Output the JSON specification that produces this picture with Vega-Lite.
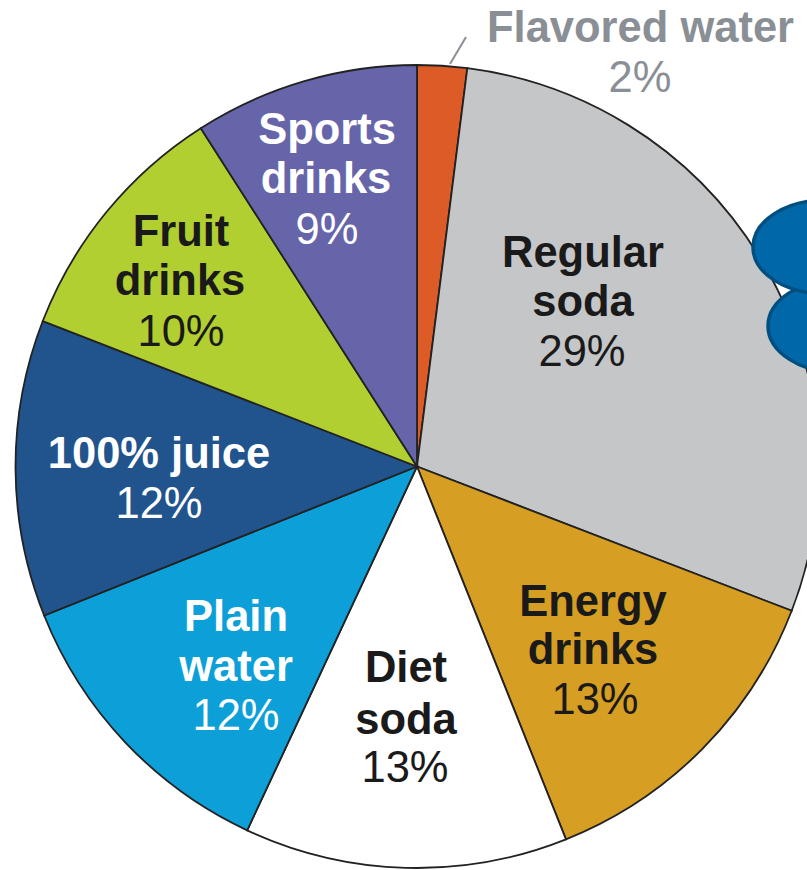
{
"$schema":"https://vega.github.io/schema/vega-lite/v6.json",
"width":807,"height":870,"padding":0,"autosize":{"type":"none"},
"background":"white",
"view":{"stroke":null},
"config":{"style":{"cell":{"stroke":null}}},
"datasets":{
"shares":[
{"drink":"Flavored water","share":2,"rank":1},
{"drink":"Regular soda","share":28.85,"rank":2},
{"drink":"Energy drinks","share":13.1,"rank":3},
{"drink":"Diet soda","share":13,"rank":4},
{"drink":"Plain water","share":12,"rank":5},
{"drink":"100% juice","share":11.95,"rank":6},
{"drink":"Fruit drinks","share":10.05,"rank":7},
{"drink":"Sports drinks","share":9.05,"rank":8}
],
"names":[
{"drink":"Flavored water","line":"Flavored water","lx":640.5,"ly":29},
{"drink":"Regular soda","line":"Regular","lx":583,"ly":254},
{"drink":"Regular soda","line":"soda","lx":583,"ly":303},
{"drink":"Energy drinks","line":"Energy","lx":593,"ly":603},
{"drink":"Energy drinks","line":"drinks","lx":593,"ly":651},
{"drink":"Diet soda","line":"Diet","lx":406,"ly":669},
{"drink":"Diet soda","line":"soda","lx":406,"ly":721},
{"drink":"Plain water","line":"Plain","lx":236,"ly":618},
{"drink":"Plain water","line":"water","lx":236,"ly":668},
{"drink":"100% juice","line":"100% juice","lx":159,"ly":455},
{"drink":"Fruit drinks","line":"Fruit","lx":181,"ly":233},
{"drink":"Fruit drinks","line":"drinks","lx":180,"ly":282},
{"drink":"Sports drinks","line":"Sports","lx":327,"ly":131},
{"drink":"Sports drinks","line":"drinks","lx":326,"ly":180}
],
"pcts":[
{"drink":"Flavored water","line":"2%","lx":640,"ly":79},
{"drink":"Regular soda","line":"29%","lx":582,"ly":353},
{"drink":"Energy drinks","line":"13%","lx":595,"ly":701},
{"drink":"Diet soda","line":"13%","lx":405,"ly":769},
{"drink":"Plain water","line":"12%","lx":236,"ly":717},
{"drink":"100% juice","line":"12%","lx":159,"ly":505},
{"drink":"Fruit drinks","line":"10%","lx":181,"ly":333},
{"drink":"Sports drinks","line":"9%","lx":327,"ly":231}
],
"leader":[{"lx":450,"ly":64},{"lx":466,"ly":37}],
"clouds":[
{"cloud":"lower","lx":840,"ly":326},
{"cloud":"upper","lx":825,"ly":247}
]
},
"layer":[
{"data":{"name":"shares"},
"mark":{"type":"arc","outerRadius":401.5,"stroke":"#222222","strokeWidth":1.8},
"encoding":{
"x":{"datum":417,"type":"quantitative","scale":{"domain":[0,807]},"axis":null},
"y":{"datum":466.5,"type":"quantitative","scale":{"domain":[0,870],"reverse":true},"axis":null},
"theta":{"field":"share","type":"quantitative","stack":true},
"order":{"field":"rank","type":"ordinal"},
"color":{"field":"drink","type":"nominal","legend":null,"scale":{
"domain":["Flavored water","Regular soda","Energy drinks","Diet soda","Plain water","100% juice","Fruit drinks","Sports drinks"],
"range":["#dd5b27","#c5c6c8","#d69e22","#ffffff","#0c9fd8","#21538c","#b2cf32","#6765a9"]}}
}},
{"data":{"name":"leader"},
"mark":{"type":"line","stroke":"#8a8f96","strokeWidth":2},
"encoding":{
"x":{"field":"lx","type":"quantitative","scale":{"domain":[0,807]},"axis":null},
"y":{"field":"ly","type":"quantitative","scale":{"domain":[0,870],"reverse":true},"axis":null}
}},
{"data":{"name":"clouds"},
"mark":{"type":"point","filled":true,"fill":"#0068a8","stroke":"#004f80","strokeWidth":3.5,"opacity":1,"size":20736,"clip":false,
"shape":"M-1,0A1,0.65 0 1,1 1,0A1,0.65 0 1,1 -1,0Z"},
"encoding":{
"x":{"field":"lx","type":"quantitative","scale":{"domain":[0,807]},"axis":null},
"y":{"field":"ly","type":"quantitative","scale":{"domain":[0,870],"reverse":true},"axis":null},
"order":{"field":"cloud","type":"nominal"}
}},
{"data":{"name":"names"},
"mark":{"type":"text","font":"Liberation Sans","fontSize":43.5,"fontWeight":"bold","align":"center","baseline":"middle"},
"encoding":{
"x":{"field":"lx","type":"quantitative","scale":{"domain":[0,807]},"axis":null},
"y":{"field":"ly","type":"quantitative","scale":{"domain":[0,870],"reverse":true},"axis":null},
"text":{"field":"line"},
"color":{"field":"drink","type":"nominal","legend":null,"scale":{
"domain":["Flavored water","Regular soda","Energy drinks","Diet soda","Plain water","100% juice","Fruit drinks","Sports drinks"],
"range":["#8a8f96","#1a1a1a","#1a1a1a","#1a1a1a","#ffffff","#ffffff","#1a1a1a","#ffffff"]}}
}},
{"data":{"name":"pcts"},
"mark":{"type":"text","font":"Liberation Sans","fontSize":43.5,"align":"center","baseline":"middle"},
"encoding":{
"x":{"field":"lx","type":"quantitative","scale":{"domain":[0,807]},"axis":null},
"y":{"field":"ly","type":"quantitative","scale":{"domain":[0,870],"reverse":true},"axis":null},
"text":{"field":"line"},
"color":{"field":"drink","type":"nominal","legend":null,"scale":{
"domain":["Flavored water","Regular soda","Energy drinks","Diet soda","Plain water","100% juice","Fruit drinks","Sports drinks"],
"range":["#8a8f96","#1a1a1a","#1a1a1a","#1a1a1a","#ffffff","#ffffff","#1a1a1a","#ffffff"]}}
}}
],
"resolve":{"scale":{"color":"independent"}}
}
